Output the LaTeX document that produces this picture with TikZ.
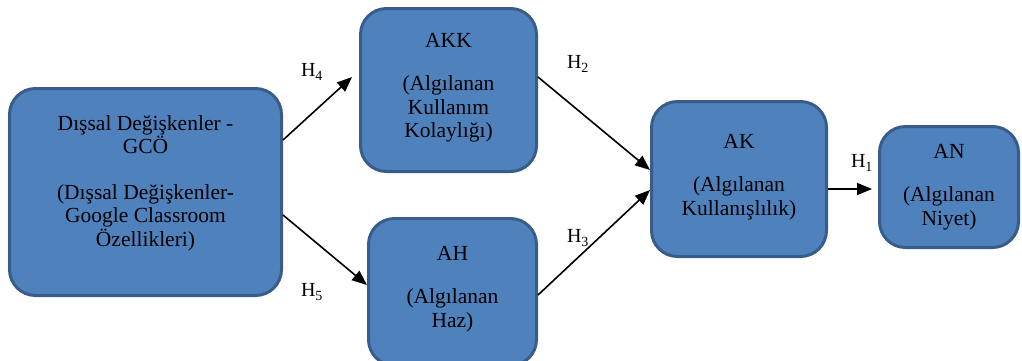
\documentclass[tikz,border=0pt]{standalone}
\usepackage{fontspec}
\setmainfont{Liberation Serif}
\newfontfamily\tnr{Liberation Serif}
\usepackage{tikz}
\usetikzlibrary{arrows.meta}

\definecolor{boxfill}{HTML}{4F81BD}
\definecolor{boxline}{HTML}{385D8A}
\newcommand{\vpad}[1]{\rule[-#1]{0pt}{#1}}

\begin{document}
\begin{tikzpicture}[x=1pt, y=-1pt,
	box/.style={draw=boxline, fill=boxfill, line width=3pt, rounded corners=26pt, align=center, inner sep=0pt, font=\tnr\fontsize{21.5}{23.5}\selectfont},
	hyp/.style={inner sep=0pt, font=\tnr\fontsize{20}{22}\selectfont},
	arr/.style={line width=1.6pt, -{Triangle[length=15pt,width=12pt]}}]
	\useasboundingbox (0,0) rectangle (1022,360);
	\clip (0,0) rectangle (1022,360);

	\node[box, minimum width=272pt, minimum height=207pt](GCO) at (145.5,192){Dışsal Değişkenler -\\GCÖ\\[22pt](Dışsal Değişkenler-\\Google Classroom\\Özellikleri)\vpad{22pt}};
	\node[box, minimum width=176pt, minimum height=163pt](AKK) at (448.5,90){AKK\\[20pt](Algılanan\\Kullanım\\Kolaylığı)\vpad{9pt}};
	\node[box, minimum width=168pt, minimum height=147pt](AH) at (452.5,292){AH\\[20pt](Algılanan\\Haz)\vpad{11pt}};
	\node[box, minimum width=175pt, minimum height=155pt](AK) at (739,179){AK\\[20pt](Algılanan\\Kullanışlılık)\vpad{9pt}};
	\node[box, minimum width=139pt, minimum height=121pt](AN) at (949,187){AN\\[20pt](Algılanan\\Niyet)};

	\draw[arr] ([yshift=52pt]GCO.east) -- ([xshift=-7pt, yshift=13pt]AKK.west);
	\draw[arr] ([yshift=-23pt]GCO.east) -- ([yshift=7pt]AH.west);
	\draw[arr] ([yshift=13pt]AKK.east) -- ([yshift=9pt]AK.west);
	\draw[arr] ([yshift=-3pt]AH.east) -- ([yshift=-11pt]AK.west);
	\draw[arr] ([yshift=-10pt]AK.east) -- ([xshift=-6pt, yshift=-2pt]AN.west);

	\node[hyp](H4) at (312,72){H\textsubscript{4}};
	\node[hyp](H5) at (312,292){H\textsubscript{5}};
	\node[hyp](H2) at (578,64){H\textsubscript{2}};
	\node[hyp](H3) at (578,238){H\textsubscript{3}};
	\node[hyp](H1) at (862,163){H\textsubscript{1}};
\end{tikzpicture}
\end{document}
